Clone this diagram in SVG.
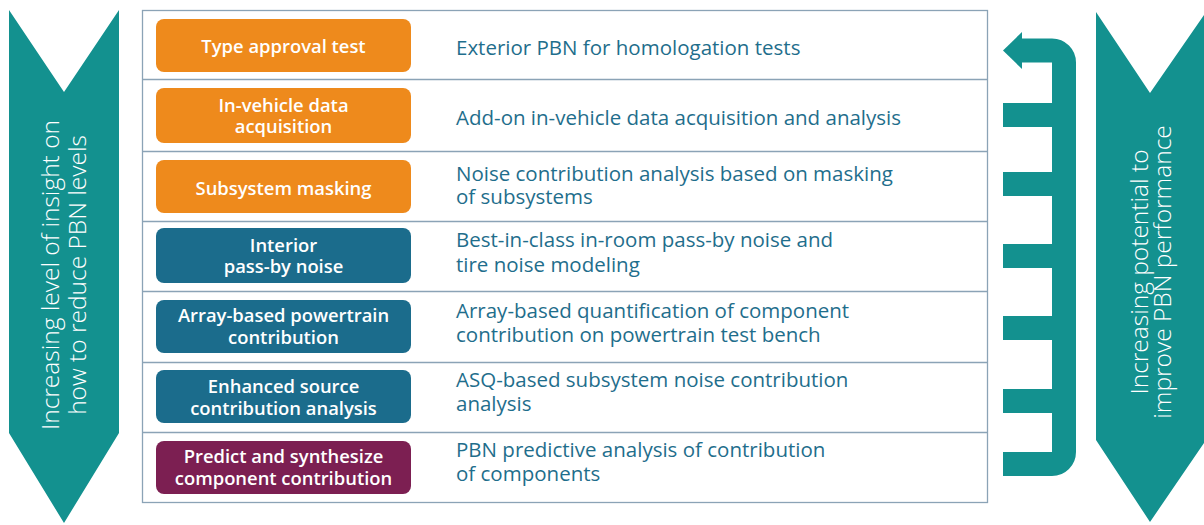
<svg xmlns="http://www.w3.org/2000/svg" width="1204" height="525" viewBox="0 0 1204 525">
<style>
.chev{fill:#13918f}
.side{font-family:"Open Sans","Liberation Sans",sans-serif;font-weight:300;font-size:24.5px;fill:#ffffff;text-anchor:middle}
.box{stroke:none}
.org{fill:#ee8a1c}
.blu{fill:#1b6c8c}
.pur{fill:#7c1f52}
.bt{font-family:"Open Sans","Liberation Sans",sans-serif;font-weight:600;font-size:18.4px;fill:#ffffff;text-anchor:middle}
.dt{font-family:"Open Sans","Liberation Sans",sans-serif;font-size:20.5px;fill:#1f6e8c}
.grid{stroke:#8ba3b6;stroke-width:1.3;fill:none}
.comb{stroke:#13918f;stroke-width:24;fill:none}
</style>
<rect width="1204" height="525" fill="#ffffff"/>
<g id="left-chevron">
<polygon class="chev" points="9,10 64,92 119,10 119,433 64,523 9,433"/>
<g transform="translate(64,275) rotate(-90)">
<text class="side" x="0" y="-5">Increasing level of insight on</text>
<text class="side" x="0" y="22">how to reduce PBN levels</text>
</g>
</g>
<g id="right-chevron">
<polygon class="chev" points="1096,12 1150,93 1206,12 1206,440 1150,522 1096,440"/>
<g transform="translate(1150,272) rotate(-90)">
<text class="side" x="0" y="-2">Increasing potential to</text>
<text class="side" x="0" y="21">improve PBN performance</text>
</g>
</g>
<g id="table">
<rect class="grid" x="142.5" y="10.5" width="845" height="492"/>
<line class="grid" x1="142" y1="79.5" x2="988" y2="79.5"/>
<line class="grid" x1="142" y1="151.5" x2="988" y2="151.5"/>
<line class="grid" x1="142" y1="221.5" x2="988" y2="221.5"/>
<line class="grid" x1="142" y1="291.5" x2="988" y2="291.5"/>
<line class="grid" x1="142" y1="362.5" x2="988" y2="362.5"/>
<line class="grid" x1="142" y1="432.5" x2="988" y2="432.5"/>
</g>
<g id="row1">
<rect class="box org" x="156" y="19" width="255" height="53" rx="8"/>
<text class="bt" x="283.5" y="53">Type approval test</text>
<text class="dt" x="456" y="55">Exterior PBN for homologation tests</text>
</g>
<g id="row2">
<rect class="box org" x="156" y="88" width="255" height="55" rx="8"/>
<text class="bt" x="283.5" y="112">In-vehicle data</text>
<text class="bt" x="283.5" y="133">acquisition</text>
<text class="dt" x="456" y="125">Add-on in-vehicle data acquisition and analysis</text>
</g>
<g id="row3">
<rect class="box org" x="156" y="160" width="255" height="53" rx="8"/>
<text class="bt" x="283.5" y="195">Subsystem masking</text>
<text class="dt" x="456" y="181">Noise contribution analysis based on masking</text>
<text class="dt" x="456" y="204">of subsystems</text>
</g>
<g id="row4">
<rect class="box blu" x="156" y="228" width="255" height="55" rx="8"/>
<text class="bt" x="283.5" y="252">Interior</text>
<text class="bt" x="283.5" y="273">pass-by noise</text>
<text class="dt" x="456" y="247">Best-in-class in-room pass-by noise and</text>
<text class="dt" x="456" y="272">tire noise modeling</text>
</g>
<g id="row5">
<rect class="box blu" x="156" y="300" width="255" height="53" rx="8"/>
<text class="bt" x="283.5" y="322">Array-based powertrain</text>
<text class="bt" x="283.5" y="344">contribution</text>
<text class="dt" x="456" y="318">Array-based quantification of component</text>
<text class="dt" x="456" y="342">contribution on powertrain test bench</text>
</g>
<g id="row6">
<rect class="box blu" x="156" y="370" width="255" height="53" rx="8"/>
<text class="bt" x="283.5" y="393">Enhanced source</text>
<text class="bt" x="283.5" y="415">contribution analysis</text>
<text class="dt" x="456" y="387">ASQ-based subsystem noise contribution</text>
<text class="dt" x="456" y="411">analysis</text>
</g>
<g id="row7">
<rect class="box pur" x="156" y="441" width="255" height="53" rx="8"/>
<text class="bt" x="283.5" y="463">Predict and synthesize</text>
<text class="bt" x="283.5" y="485">component contribution</text>
<text class="dt" x="456" y="457">PBN predictive analysis of contribution</text>
<text class="dt" x="456" y="481">of components</text>
</g>
<g id="connectors">
<path class="comb" d="M1018,50.5 H1052 A12,12 0 0 1 1064,62.5 V452 A12,12 0 0 1 1052,464 H1003"/>
<path class="comb" d="M1003,115 H1064 M1003,184 H1064 M1003,256 H1064 M1003,328 H1064 M1003,401 H1064"/>
<polygon fill="#13918f" points="1003,50.5 1022,32 1022,69"/>
</g>
</svg>
